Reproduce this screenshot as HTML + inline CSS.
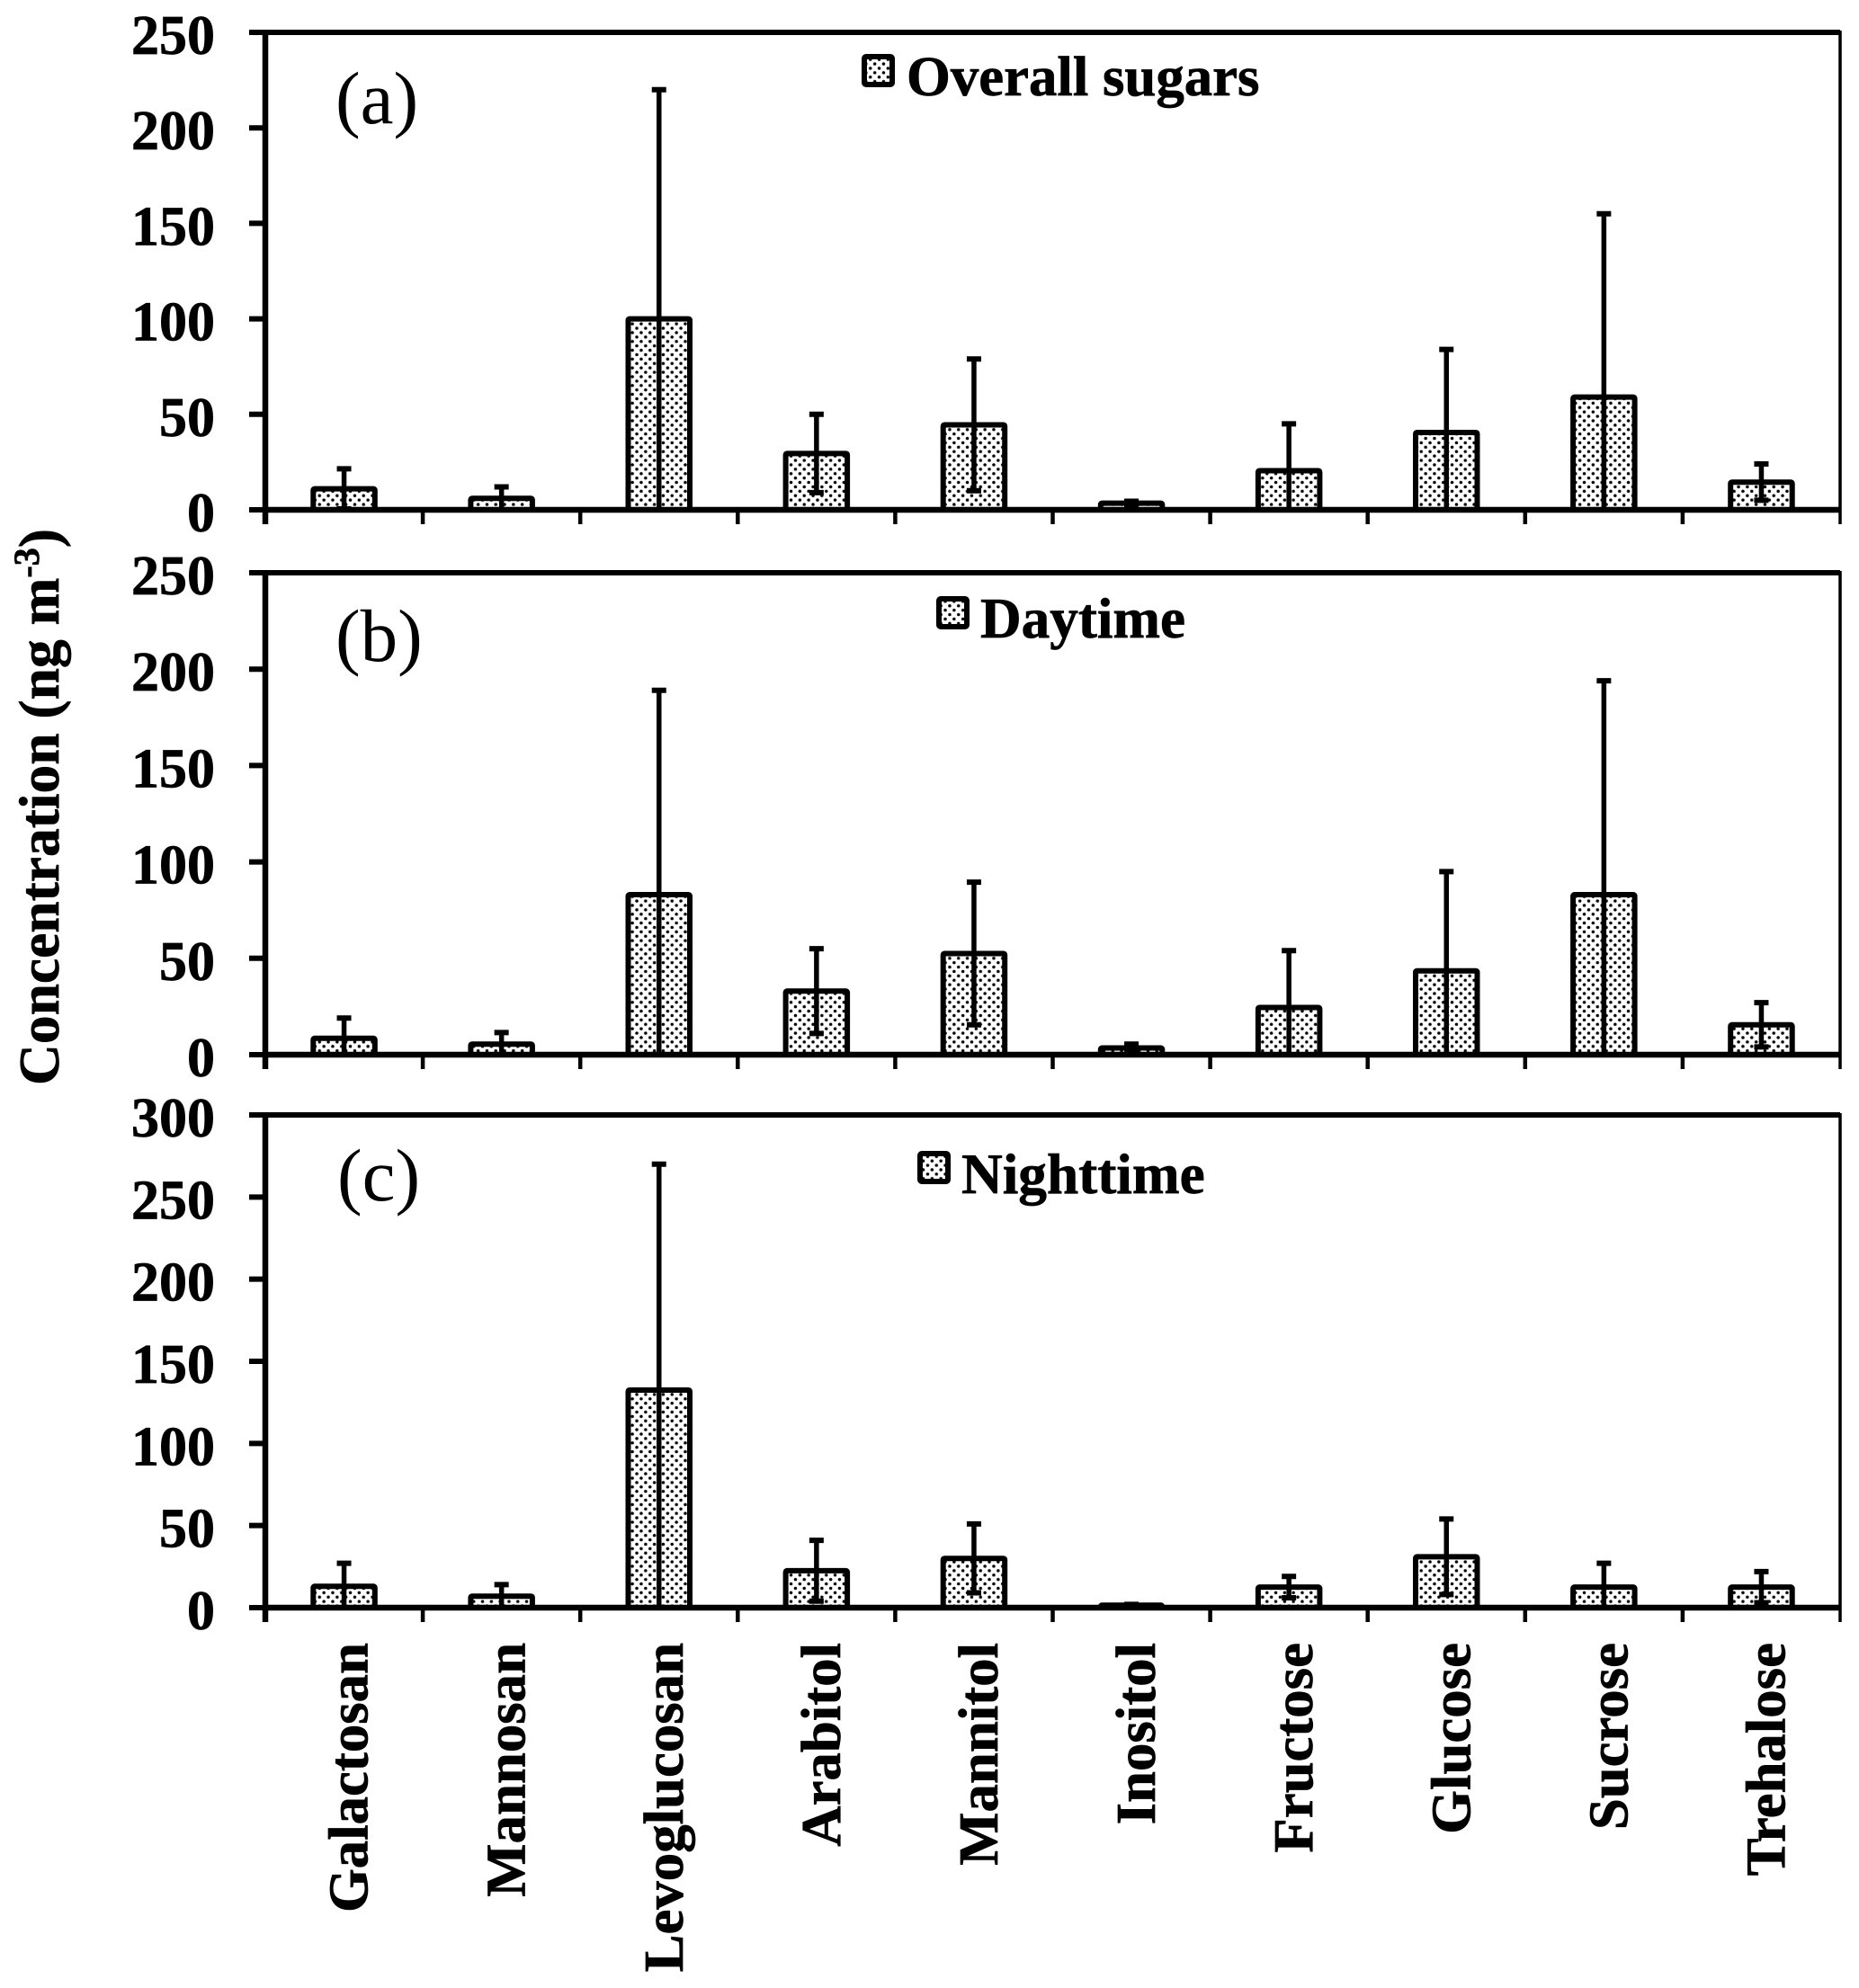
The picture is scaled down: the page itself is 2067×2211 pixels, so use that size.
<!DOCTYPE html>
<html lang="en">
<head>
<meta charset="utf-8">
<title>Sugar concentrations</title>
<style>
html,body{margin:0;padding:0;background:#fff;width:2067px;height:2211px;overflow:hidden}
svg{display:block;font-family:"Liberation Serif",serif}
.tick-label,.cat-label,.legend-label,.y-title{font-weight:bold;fill:#000;stroke:#000;stroke-width:0.7px}
</style>
</head>
<body>
<svg id="chart" xmlns="http://www.w3.org/2000/svg" width="2067" height="2211" viewBox="0 0 2067 2211">
<defs>
<pattern id="dots" patternUnits="userSpaceOnUse" width="9.8" height="9.8">
<rect width="9.8" height="9.8" fill="#fff"/>
<circle cx="2.45" cy="2.45" r="1.75" fill="#000"/>
<circle cx="7.35" cy="7.35" r="1.75" fill="#000"/>
</pattern>
</defs>
<rect width="2067" height="2211" fill="#fff"/>
<text class="y-title" transform="translate(65,1207) rotate(-90)" font-size="63.5">Concentration (ng m<tspan dy="-22" font-size="40">-3</tspan><tspan dy="22">)</tspan></text>
<text x="373" y="137" font-size="83">(a)</text>
<text x="373" y="735" font-size="83">(b)</text>
<text x="375" y="1335" font-size="83">(c)</text>
<rect x="961" y="63" width="31" height="31" rx="2" fill="url(#dots)" stroke="#000" stroke-width="6"/>
<text class="legend-label" x="1008" y="106" font-size="62.8">Overall sugars</text>
<rect x="1044" y="666" width="31" height="31" rx="2" fill="url(#dots)" stroke="#000" stroke-width="6"/>
<text class="legend-label" x="1090" y="709" font-size="63.2">Daytime</text>
<rect x="1023" y="1283" width="31" height="31" rx="2" fill="url(#dots)" stroke="#000" stroke-width="6"/>
<text class="legend-label" x="1069" y="1327" font-size="63.3">Nighttime</text>
<g id="plots"></g>
</svg>
<script>
const categories = ["Galactosan","Mannosan","Levoglucosan","Arabitol","Mannitol","Inositol","Fructose","Glucose","Sucrose","Trehalose"];
const overallMeans = [11,6,100,29.5,44.5,3.5,20.5,40.5,59,14.5];
const overallSds = [10.5,6,120,20.5,34.5,1,24.5,43.5,96,9.5];
const overallTicks = [0,50,100,150,200,250];
const daytimeMeans = [8.5,5.5,83,33,52.5,3.5,24.5,43.5,83,15.5];
const daytimeSds = [10.5,6,106,22,37,2,29.5,51.5,111,11.5];
const daytimeTicks = [0,50,100,150,200,250];
const nighttimeMeans = [13,7,132.5,22.5,30,1.5,12.5,31,12.5,12.5];
const nighttimeSds = [14,7,137.5,18.5,21,0.5,6.5,23,14.5,9.5];
const nighttimeTicks = [0,50,100,150,200,250,300];

const NS = "http://www.w3.org/2000/svg";
const root = document.getElementById("plots");
const plotLeft = 295, plotRight = 2046;
const band = (plotRight - plotLeft) / categories.length;
const xCenter = i => plotLeft + band * (i + 0.5);
const barWidth = 68.5;

function mk(tag, attrs, parent) {
  const el = document.createElementNS(NS, tag);
  for (const k in attrs) el.setAttribute(k, attrs[k]);
  parent.appendChild(el);
  return el;
}

function drawPanel(panelName, top, zero, means, sds, ticks, showLabels) {
  const g = mk("g", {}, root);
  
  
  const yMax = Math.max(...ticks);
  const y = v => zero - (v / yMax) * (zero - top);

  categories.forEach((cat, i) => {
    const cx = xCenter(i);
    const bar = mk("rect", {x: cx - barWidth / 2, y: y(means[i]), width: barWidth, height: zero - y(means[i]), rx: 1.5, fill: "url(#dots)", stroke: "#000", "stroke-width": 6}, g);
    
    
    const hi = means[i] + sds[i];
    const lo = Math.max(0, means[i] - sds[i]);
    const stem = mk("line", {x1: cx, x2: cx, y1: y(lo), y2: y(hi), stroke: "#000", "stroke-width": 5.5}, g);
    
    
    const capTop = mk("line", {x1: cx - 8, x2: cx + 8, y1: y(hi), y2: y(hi), stroke: "#000", "stroke-width": 6}, g);
    
    
    if (means[i] - sds[i] > 0) {
      const capLow = mk("line", {x1: cx - 8, x2: cx + 8, y1: y(lo), y2: y(lo), stroke: "#000", "stroke-width": 6}, g);
      
      
    }
  });

  const axisY = mk("line", {x1: plotLeft, x2: plotLeft, y1: top - 3, y2: zero + 16, stroke: "#000", "stroke-width": 6.5}, g);
  
  
  const topLine = mk("line", {x1: plotLeft, x2: plotRight, y1: top, y2: top, stroke: "#000", "stroke-width": 6}, g);
  
  
  const rightLine = mk("line", {x1: plotRight, x2: plotRight, y1: top - 2, y2: zero + 16, stroke: "#000", "stroke-width": 3.5}, g);
  
  
  const axisX = mk("line", {x1: plotLeft, x2: plotRight, y1: zero, y2: zero, stroke: "#000", "stroke-width": 6.5}, g);
  
  

  ticks.forEach(t => {
    const tk = mk("line", {x1: 277, x2: plotLeft, y1: y(t), y2: y(t), stroke: "#000", "stroke-width": 6}, g);
    
    
    const lb = mk("text", {class: "tick-label", x: 239, y: y(t) + 24, "text-anchor": "end", "font-size": 62}, g);
    
    
    lb.textContent = t;
  });

  for (let i = 1; i < categories.length; i++) {
    const tx = plotLeft + band * i;
    const tk = mk("line", {x1: tx, x2: tx, y1: zero, y2: zero + 16, stroke: "#000", "stroke-width": 4.5}, g);
    
    
  }

  if (showLabels) {
    categories.forEach((cat, i) => {
      const bx = xCenter(i) + 26;
      const lb = mk("text", {class: "cat-label", transform: "translate(" + bx + ",1827) rotate(-90)", "text-anchor": "end", "font-size": 62.8}, g);
      
      
      lb.textContent = cat;
    });
  }
}

drawPanel("overall", 36, 567, overallMeans, overallSds, overallTicks, false);
drawPanel("daytime", 637, 1173, daytimeMeans, daytimeSds, daytimeTicks, false);
drawPanel("nighttime", 1240, 1788, nighttimeMeans, nighttimeSds, nighttimeTicks, true);
</script>
</body>
</html>
